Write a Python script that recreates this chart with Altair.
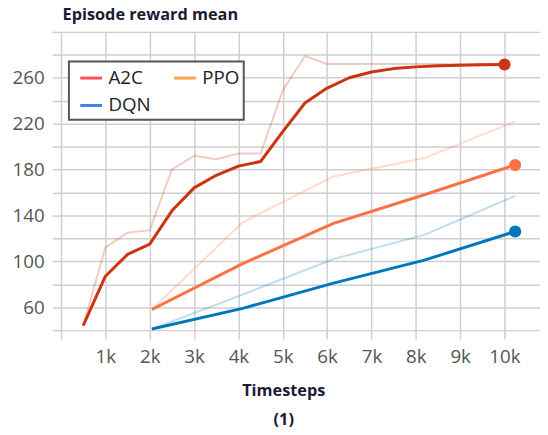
import altair as alt
import pandas as pd

# ---- data ----
a2c_steps = [500, 1000, 1500, 2000, 2500, 3000, 3500, 4000, 4500, 5000,
             5500, 6000, 6500, 7000, 7500, 8000, 8500, 9000, 9500, 10000]
a2c_raw = [44, 112, 125, 127, 180, 192, 189, 194, 194, 249,
           279, 272, 272, 272, 272, 272, 272, 272, 272, 272]
a2c_smooth = [44, 87, 106, 115, 144, 164, 175, 183, 187, 213,
              238, 251, 260, 265, 268, 269.5, 270.5, 271, 271.4, 271.6]

ppo_steps = [2048, 4096, 6144, 8192, 10240]
ppo_raw = [58, 134, 174, 190, 222]
ppo_smooth = [58, 98, 133, 158, 184]

dqn_steps = [2048, 4096, 6144, 8192, 10240]
dqn_raw = [41, 71, 102, 123, 157]
dqn_smooth = [41, 59, 81, 101, 126]

algos = ["A2C", "PPO", "DQN"]
line_colors = ["#cc3311", "#ff7043", "#0077bb"]
legend_colors = ["#ff4d5e", "#ffa050", "#3d85dd"]

x_ticks = [0, 1000, 2000, 3000, 4000, 5000, 6000, 7000, 8000, 9000, 10000]
y_ticks = [40, 60, 80, 100, 120, 140, 160, 180, 200, 220, 240, 260, 280, 300]

# ---- tables ----
rows = []
for algo, steps, raw, smooth in [("A2C", a2c_steps, a2c_raw, a2c_smooth),
                                 ("PPO", ppo_steps, ppo_raw, ppo_smooth),
                                 ("DQN", dqn_steps, dqn_raw, dqn_smooth)]:
    for s, r, m in zip(steps, raw, smooth):
        rows.append({"step": s, "value": r, "algo": algo, "kind": "raw"})
        rows.append({"step": s, "value": m, "algo": algo, "kind": "smooth"})
df = pd.DataFrame(rows)

ends = pd.DataFrame([
    {"step": a2c_steps[-1], "value": a2c_smooth[-1], "algo": "A2C"},
    {"step": ppo_steps[-1], "value": ppo_smooth[-1], "algo": "PPO"},
    {"step": dqn_steps[-1], "value": dqn_smooth[-1], "algo": "DQN"},
])

FONT = "Open Sans"

x_enc = alt.X(
    "step:Q",
    scale=alt.Scale(domain=[0, 10800], nice=False, zero=False),
    axis=alt.Axis(
        values=x_ticks,
        labelExpr="datum.value == 0 ? '' : (datum.value / 1000) + 'k'",
        title=["Timesteps", "(1)"],
        titleLineHeight=30,
        titleX=225,
        titleY=66,
        titleAnchor="start",
        titleAlign="center",
        titleBaseline="alphabetic",
        labelPadding=9,
        labelFlush=False,
    ),
)
y_enc = alt.Y(
    "value:Q",
    scale=alt.Scale(domain=[40, 300], nice=False, zero=False),
    axis=alt.Axis(
        values=y_ticks,
        labelExpr="(datum.value >= 60 && datum.value <= 260 && (datum.value - 60) % 40 == 0) ? datum.label : ''",
        title="Episode reward mean",
        titleAngle=0,
        titleAlign="left",
        titleBaseline="alphabetic",
        titleX=1,
        titleY=-13,
        labelPadding=8,
    ),
)

line_scale = alt.Scale(domain=algos, range=line_colors)

raw_lines = alt.Chart(df).transform_filter("datum.kind == 'raw'").mark_line(
    strokeWidth=2, opacity=0.25, strokeJoin="round"
).encode(x=x_enc, y=y_enc, color=alt.Color("algo:N", scale=line_scale, legend=None))

smooth_lines = alt.Chart(df).transform_filter("datum.kind == 'smooth'").mark_line(
    strokeWidth=3, strokeJoin="round"
).encode(x=x_enc, y=y_enc, color=alt.Color("algo:N", scale=line_scale, legend=None))

dots = alt.Chart(ends).mark_circle(size=150, opacity=1).encode(
    x=x_enc, y=y_enc, color=alt.Color("algo:N", scale=line_scale, legend=None)
)

legend_layer = alt.Chart(df).transform_filter("datum.step < 0").mark_line().encode(
    x=x_enc, y=y_enc,
    color=alt.Color(
        "algo:N",
        scale=alt.Scale(domain=algos, range=legend_colors),
        title=None,
        legend=alt.Legend(
            orient="none", legendX=8, legendY=30, columns=2, direction="horizontal",
            symbolType="stroke", symbolStrokeWidth=3, symbolSize=484,
            symbolOpacity=1, symbolOffset=6,
            labelOffset=5, columnPadding=16, rowPadding=5, padding=4,
            strokeColor="#555555", fillColor="white",
            labelFont=FONT, labelFontSize=19, labelColor="#222222",
        ),
    ),
)

chart = alt.layer(raw_lines, smooth_lines, dots, legend_layer).resolve_scale(
    color="independent"
).properties(
    width=485, height=302,
    autosize=alt.AutoSizeParams(type="none"),
    padding={"left": 53.7, "top": 21.5, "right": 0, "bottom": 103},
    background="white",
).configure_view(strokeWidth=0).configure_axis(
    grid=True, gridColor="#cfcfcf", gridWidth=1.5,
    domain=False, tickColor="#cfcfcf", tickWidth=1.5, tickSize=9,
    labelFont=FONT, labelFontSize=19, labelColor="#555555",
    titleFont=FONT, titleFontSize=16.5, titleFontWeight="bold", titleColor="#1b1b35",
).configure_legend(strokeWidth=2)

chart.save("out.html", embed_options={"renderer": "svg", "actions": False})
